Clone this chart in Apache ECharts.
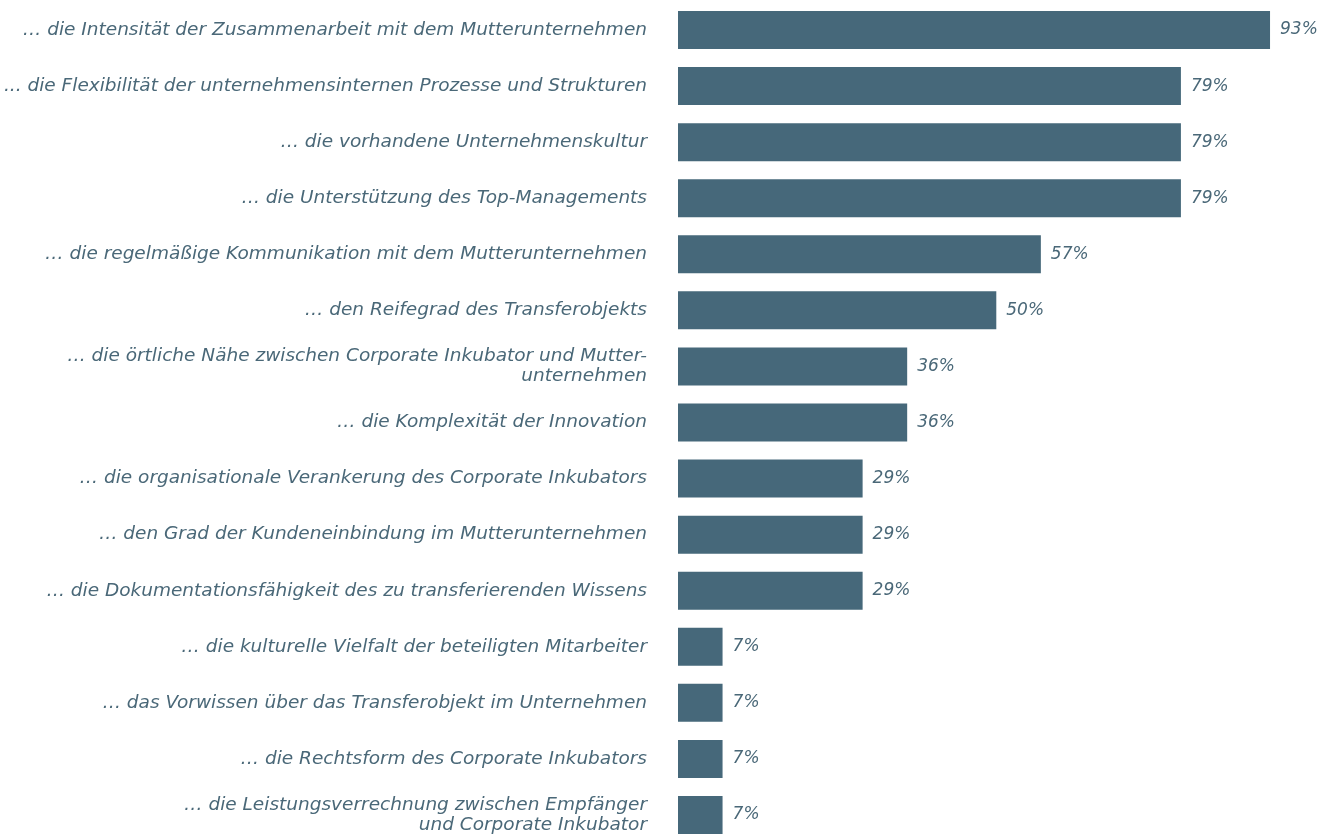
<!DOCTYPE html>
<html>
<head>
<meta charset="utf-8">
<script src="https://cdn.jsdelivr.net/npm/echarts@6/dist/echarts.min.js"></script>
<style>
html,body{margin:0;padding:0;background:#fff;overflow:hidden;}
#chart{width:1335px;height:845px;}
</style>
</head>
<body>
<div id="chart"></div>
<script>
const categories = [
  "… die Intensität der Zusammenarbeit mit dem Mutterunternehmen",
  "... die Flexibilität der unternehmensinternen Prozesse und Strukturen",
  "… die vorhandene Unternehmenskultur",
  "… die Unterstützung des Top-Managements",
  "… die regelmäßige Kommunikation mit dem Mutterunternehmen",
  "… den Reifegrad des Transferobjekts",
  "… die örtliche Nähe zwischen Corporate Inkubator und Mutter-\nunternehmen",
  "… die Komplexität der Innovation",
  "… die organisationale Verankerung des Corporate Inkubators",
  "… den Grad der Kundeneinbindung im Mutterunternehmen",
  "… die Dokumentationsfähigkeit des zu transferierenden Wissens",
  "… die kulturelle Vielfalt der beteiligten Mitarbeiter",
  "… das Vorwissen über das Transferobjekt im Unternehmen",
  "… die Rechtsform des Corporate Inkubators",
  "… die Leistungsverrechnung zwischen Empfänger\nund Corporate Inkubator"
];
const values = [93, 79, 79, 79, 57, 50, 36, 36, 29, 29, 29, 7, 7, 7, 7];

const textColor = '#4a6878';
const barColor = '#46687a';
const fontFamily = '"DejaVu Sans", sans-serif';

const chart = echarts.init(document.getElementById('chart'));
chart.setOption({
  animation: false,
  grid: { left: 678, right: 20.4, top: 2, bottom: 2, containLabel: false },
  xAxis: {
    type: 'value', min: 0, max: 100, show: false
  },
  yAxis: {
    type: 'category', data: categories, inverse: true,
    axisLine: { show: false }, axisTick: { show: false },
    axisLabel: {
      margin: 31, color: textColor, fontStyle: 'italic', fontSize: 18.5,
      fontFamily: fontFamily, align: 'right', lineHeight: 20
    }
  },
  series: [{
    type: 'bar', data: values, barWidth: 38,
    itemStyle: { color: barColor },
    label: {
      show: true, position: 'right', distance: 10,
      formatter: '{c}%', color: textColor, fontStyle: 'italic',
      fontSize: 17, fontFamily: fontFamily
    }
  }]
});
</script>
</body>
</html>
